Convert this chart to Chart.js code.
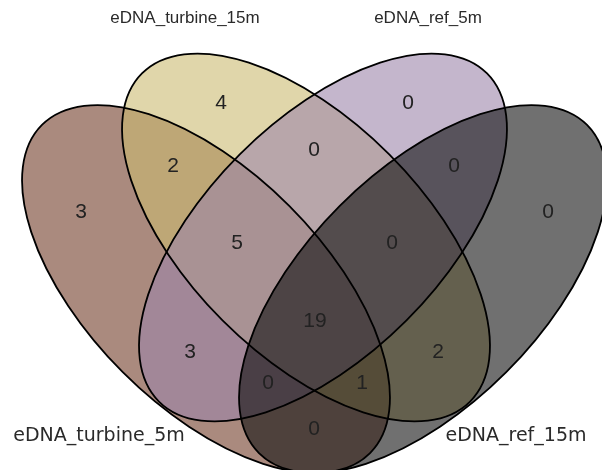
<!DOCTYPE html>
<html>
<head>
<meta charset="utf-8">
<script src="https://cdn.jsdelivr.net/npm/chart.js@4/dist/chart.umd.min.js"></script>
<style>
  html, body { margin: 0; padding: 0; background: #ffffff; }
  #wrap { width: 602px; height: 470px; }
</style>
</head>
<body>
<div id="wrap"><canvas id="c" width="602" height="470"></canvas></div>
<script>
// ---- data ----
const setNames = ["eDNA_turbine_5m", "eDNA_turbine_15m", "eDNA_ref_5m", "eDNA_ref_15m"];
// region keys: A=turbine_5m, B=turbine_15m, C=ref_5m, D=ref_15m
const regionKeys   = ["A", "B", "C", "D", "AB", "BC", "CD", "ABC", "BCD", "ABCD", "AC", "BD", "ACD", "ABD", "AD"];
const regionCounts = [ 3,   4,   0,   0,   2,    0,    0,    5,     0,     19,     3,    2,    0,     1,     0  ];

// ---- layout (pixel-space geometry of the diagram) ----
const W = 602, H = 470;
const ellipseLayout = {
  A: { cx: 206, cy: 289,   rot:  Math.PI / 4, color: "rgba(113,60,40,0.6)" },
  B: { cx: 306, cy: 237.5, rot:  Math.PI / 4, color: "rgba(203,187,113,0.6)" },
  C: { cx: 323, cy: 237.5, rot: -Math.PI / 4, color: "rgba(157,133,170,0.6)" },
  D: { cx: 423, cy: 289,   rot: -Math.PI / 4, color: "rgba(17,17,17,0.6)" }
};
const semiMajor = 232, semiMinor = 117.7;
const regionAnchor = {
  A: [81, 212], B: [221, 103], C: [408, 103], D: [548, 212],
  AB: [173, 166], BC: [314, 150], CD: [454, 166],
  ABC: [237, 243], BCD: [392, 243], ABCD: [315, 321],
  AC: [190, 352], BD: [438, 352], ACD: [268, 383], ABD: [362, 383], AD: [314, 429]
};
const setLabelLayout = [
  { x: 99,  y: 436, font: "19px 'DejaVu Sans'" },
  { x: 185, y: 18,  font: "17px 'Liberation Sans'" },
  { x: 428, y: 18,  font: "17px 'Liberation Sans'" },
  { x: 516, y: 436, font: "19px 'DejaVu Sans'" }
];

const points = regionKeys.map((k, i) => ({ x: regionAnchor[k][0], y: regionAnchor[k][1], v: regionCounts[i] }));

const vennPlugin = {
  id: 'venn',
  beforeDatasetsDraw(chart) {
    const ctx = chart.ctx, xs = chart.scales.x, ys = chart.scales.y;
    const kx = xs.getPixelForValue(1) - xs.getPixelForValue(0);
    const ky = ys.getPixelForValue(1) - ys.getPixelForValue(0);
    const keys = ["A", "B", "C", "D"];
    ctx.save();
    keys.forEach(k => {
      const e = ellipseLayout[k];
      ctx.beginPath();
      ctx.ellipse(xs.getPixelForValue(e.cx), ys.getPixelForValue(e.cy), semiMajor * Math.abs(kx), semiMinor * Math.abs(ky), e.rot, 0, Math.PI * 2);
      ctx.fillStyle = e.color;
      ctx.fill();
    });
    ctx.lineWidth = 1.8;
    ctx.strokeStyle = "#000000";
    keys.forEach(k => {
      const e = ellipseLayout[k];
      ctx.beginPath();
      ctx.ellipse(xs.getPixelForValue(e.cx), ys.getPixelForValue(e.cy), semiMajor * Math.abs(kx), semiMinor * Math.abs(ky), e.rot, 0, Math.PI * 2);
      ctx.stroke();
    });
    ctx.restore();
  },
  afterDatasetsDraw(chart) {
    const ctx = chart.ctx, xs = chart.scales.x, ys = chart.scales.y;
    ctx.save();
    ctx.textAlign = "center";
    ctx.textBaseline = "middle";
    ctx.fillStyle = "#222222";
    ctx.font = "21px 'Liberation Sans', Arial, sans-serif";
    chart.data.datasets[0].data.forEach(p => {
      ctx.fillText(String(p.v), xs.getPixelForValue(p.x), ys.getPixelForValue(p.y));
    });
    ctx.fillStyle = "#2a2a2a";
    setNames.forEach((n, i) => {
      const L = setLabelLayout[i];
      ctx.font = L.font;
      ctx.fillText(n, xs.getPixelForValue(L.x), ys.getPixelForValue(L.y));
    });
    ctx.restore();
  }
};

new Chart(document.getElementById('c'), {
  type: 'scatter',
  data: { datasets: [{ data: points, pointRadius: 0, pointHoverRadius: 0, showLine: false }] },
  options: {
    responsive: false,
    animation: false,
    devicePixelRatio: 1,
    layout: { padding: 0 },
    plugins: { legend: { display: false }, tooltip: { enabled: false } },
    scales: {
      x: { type: 'linear', min: 0, max: W, display: false },
      y: { type: 'linear', min: 0, max: H, reverse: true, display: false }
    }
  },
  plugins: [vennPlugin]
});
</script>
</body>
</html>
